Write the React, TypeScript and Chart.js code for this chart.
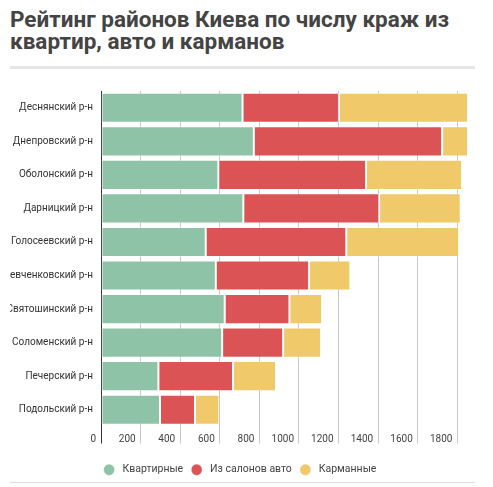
import React, { useEffect, useRef } from "react";
import { Chart, registerables } from "chart.js";

Chart.register(...registerables);

const titleText = "Рейтинг районов Киева по числу краж из квартир, авто и карманов";

const districts = [
  "Деснянский р-н",
  "Днепровский р-н",
  "Оболонский р-н",
  "Дарницкий р-н",
  "Голосеевский р-н",
  "Шевченковский р-н",
  "Святошинский р-н",
  "Соломенский р-н",
  "Печерский р-н",
  "Подольский р-н",
];

const seriesNames = ["Квартирные", "Из салонов авто", "Карманные"];
const apartments = [715, 772, 593, 719, 529, 580, 625, 612, 290, 298];
const cars = [487, 951, 746, 686, 710, 471, 327, 308, 377, 177];
const pockets = [652, 131, 485, 412, 570, 209, 165, 192, 217, 123];
const seriesColors = ["#8FC3A8", "#DC5356", "#F0CA6A"];

const xTickValues = [0, 200, 400, 600, 800, 1000, 1200, 1400, 1600, 1800];
const xMax = 1864;

export default function App() {
  const ref = useRef<HTMLCanvasElement | null>(null);

  useEffect(() => {
    if (!ref.current) return;
    const values = [apartments, cars, pockets];
    const chart = new Chart(ref.current, {
      type: "bar",
      data: {
        labels: districts,
        datasets: seriesNames.map((name, i) => ({
          label: name,
          data: values[i],
          backgroundColor: seriesColors[i],
          borderColor: "rgba(255,255,255,0.45)",
          borderWidth: 1,
          borderSkipped: false,
          barPercentage: 0.9,
          categoryPercentage: 1.0,
        })),
      },
      options: {
        indexAxis: "y",
        animation: false,
        responsive: true,
        maintainAspectRatio: false,
        layout: { padding: { top: 22, right: 5, left: 0, bottom: 0 } },
        plugins: {
          title: { display: false },
          tooltip: { enabled: false },
          legend: {
            position: "bottom",
            labels: {
              usePointStyle: true,
              pointStyle: "circle",
              boxWidth: 11,
              boxHeight: 8,
              pointStyleWidth: 11,
              padding: 8,
              color: "#444",
              font: { family: "Roboto", size: 10.5 },
              generateLabels: (chart: any) => {
                const items = Chart.defaults.plugins.legend.labels.generateLabels(chart);
                return items.map((it: any) => ({ ...it, text: " " + it.text }));
              },
            },
          },
        },
        scales: {
          x: {
            stacked: true,
            min: 0,
            max: xMax,
            afterBuildTicks: (scale: any) => {
              scale.ticks = xTickValues.map((v) => ({ value: v }));
            },
            afterFit: (scale: any) => {
              scale.height = 30;
            },
            border: { display: false },
            grid: {
              color: (ctx: any) => (ctx.tick && ctx.tick.value === 0 ? "#333" : "#c8c8c8"),
              tickLength: 17,
              drawTicks: true,
            },
            ticks: {
              align: "end",
              padding: -10,
              color: "#444",
              font: { family: "Roboto", size: 10 },
              callback: (v: any) => String(v) + "  ",
            },
          },
          y: {
            stacked: true,
            border: { display: false },
            grid: { display: false, drawTicks: false },
            afterFit: (scale: any) => {
              scale.width = 91;
            },
            ticks: {
              padding: 8,
              color: "#333",
              font: { family: "Roboto", size: 10 },
            },
          },
        },
      },
    });
    return () => chart.destroy();
  }, []);

  return (
    <div style={{ width: 465, marginLeft: 2, fontFamily: "Roboto, sans-serif" }}>
      <div
        style={{
          fontSize: 22.5,
          fontWeight: 700,
          color: "#444",
          lineHeight: "22px",
          paddingBottom: 14,
          borderBottom: "3px solid #e6e6e6",
        }}
      >
        {titleText}
      </div>
      <div style={{ position: "relative", height: 416 }}>
        <canvas ref={ref} />
      </div>
      <div style={{ borderTop: "1px solid #ddd", marginTop: -3, position: "relative" }} />
    </div>
  );
}
